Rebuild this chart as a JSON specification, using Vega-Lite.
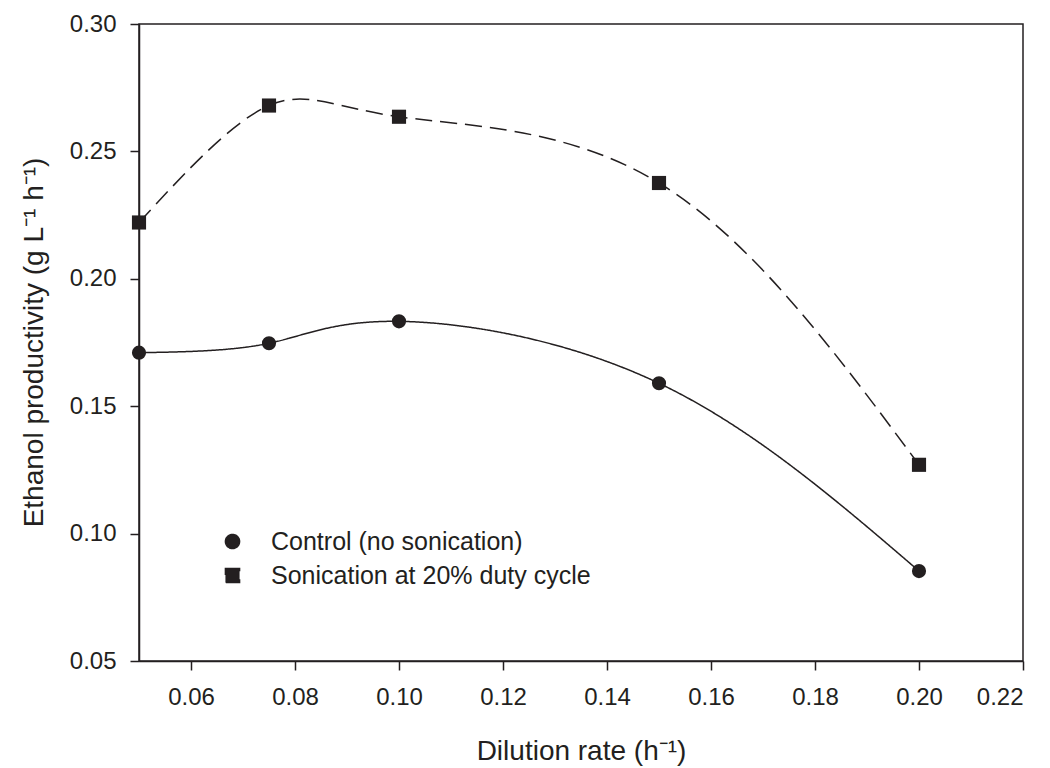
{
  "$schema": "https://vega.github.io/schema/vega-lite/v6.json",
  "width": 884,
  "height": 637,
  "autosize": {"type": "none"},
  "padding": {"left": 139, "top": 24, "right": 27, "bottom": 107},
  "background": "white",
  "config": {
    "view": {"stroke": "#231f20", "strokeWidth": 1.5},
    "font": "Liberation Sans",
    "axis": {
      "grid": false,
      "domainColor": "#231f20",
      "domainWidth": 1.5,
      "tickColor": "#231f20",
      "tickWidth": 1.5,
      "tickSize": 9,
      "labelColor": "#231f20",
      "labelFont": "Liberation Sans",
      "labelFontSize": 24,
      "titleColor": "#231f20",
      "titleFont": "Liberation Sans",
      "titleFontSize": 28,
      "titleFontWeight": "normal"
    },
    "legend": {
      "title": null,
      "orient": "none",
      "legendX": 81,
      "legendY": 505,
      "padding": 0,
      "labelFont": "Liberation Sans",
      "labelFontSize": 25,
      "labelColor": "#231f20",
      "labelLimit": 0,
      "labelOffset": 26,
      "symbolSize": 200,
      "rowPadding": 8,
      "symbolFillColor": "#231f20",
      "symbolStrokeColor": "#231f20",
      "symbolStrokeWidth": 1.5
    }
  },
  "data": {
    "values": [
      {"series": "Control (no sonication)", "d": 0.05, "p": 0.171},
      {"series": "Control (no sonication)", "d": 0.075, "p": 0.1747},
      {"series": "Control (no sonication)", "d": 0.1, "p": 0.1833},
      {"series": "Control (no sonication)", "d": 0.15, "p": 0.159},
      {"series": "Control (no sonication)", "d": 0.2, "p": 0.0853},
      {"series": "Sonication at 20% duty cycle", "d": 0.05, "p": 0.2221},
      {"series": "Sonication at 20% duty cycle", "d": 0.075, "p": 0.268},
      {"series": "Sonication at 20% duty cycle", "d": 0.1, "p": 0.2636},
      {"series": "Sonication at 20% duty cycle", "d": 0.15, "p": 0.2376},
      {"series": "Sonication at 20% duty cycle", "d": 0.2, "p": 0.127}
    ]
  },
  "encoding": {
    "x": {
      "field": "d",
      "type": "quantitative",
      "scale": {"domain": [0.05, 0.22], "nice": false, "zero": false},
      "axis": {
        "title": "Dilution rate (h⁻¹)",
        "values": [0.06, 0.08, 0.1, 0.12, 0.14, 0.16, 0.18, 0.2, 0.22],
        "format": ".2f",
        "labelPadding": 15,
        "titleBaseline": "alphabetic",
        "titleY": 98
      }
    },
    "y": {
      "field": "p",
      "type": "quantitative",
      "scale": {"domain": [0.05, 0.3], "nice": false, "zero": false},
      "axis": {
        "title": "Ethanol productivity (g L⁻¹ h⁻¹)",
        "values": [0.05, 0.1, 0.15, 0.2, 0.25, 0.3],
        "format": ".2f",
        "labelPadding": 14,
        "titleX": -105,
        "titleY": 318,
        "titleAngle": -90,
        "titleAlign": "center",
        "titleBaseline": "middle"
      }
    }
  },
  "layer": [
    {
      "mark": {"type": "line", "interpolate": "natural", "color": "#231f20", "strokeWidth": 1.5},
      "encoding": {
        "strokeDash": {
          "field": "series",
          "type": "nominal",
          "scale": {"domain": ["Control (no sonication)", "Sonication at 20% duty cycle"], "range": [[1, 0], [17, 8]]},
          "legend": {
            "encode": {
              "symbols": {
                "update": {
                  "fill": {"value": "#231f20"},
                  "stroke": {"value": "#231f20"},
                  "strokeWidth": {"value": 1.5},
                  "strokeDash": {"value": [1, 0]},
                  "opacity": {"value": 1}
                }
              }
            }
          }
        }
      }
    },
    {
      "mark": {"type": "point", "filled": true, "color": "#231f20", "opacity": 1, "size": 200},
      "encoding": {
        "shape": {
          "field": "series",
          "type": "nominal",
          "scale": {"domain": ["Control (no sonication)", "Sonication at 20% duty cycle"], "range": ["circle", "square"]},
          "legend": {
            "encode": {
              "symbols": {
                "update": {
                  "fill": {"value": "#231f20"},
                  "stroke": {"value": "#231f20"},
                  "strokeWidth": {"value": 1.5},
                  "strokeDash": {"value": [1, 0]},
                  "opacity": {"value": 1}
                }
              }
            }
          }
        }
      }
    }
  ]
}
